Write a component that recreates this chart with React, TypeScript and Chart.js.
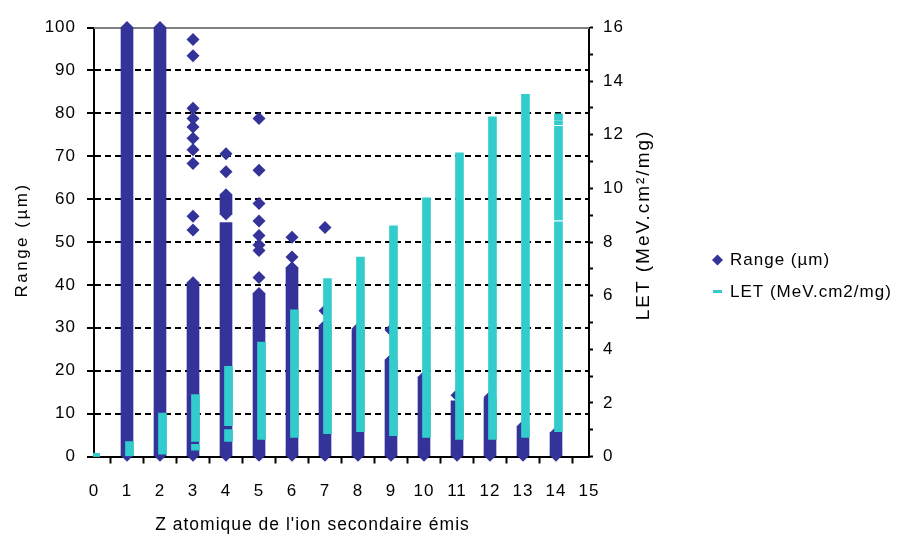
import React, { useEffect, useRef } from 'react';
import { Chart, registerables } from 'chart.js';

Chart.register(...registerables);

// ---------- data ----------
const xTickValues = [0, 1, 2, 3, 4, 5, 6, 7, 8, 9, 10, 11, 12, 13, 14, 15];
const xTickLabels = ['0', '1', '2', '3', '4', '5', '6', '7', '8', '9', '10', '11', '12', '13', '14', '15'];
const yTickValues = [0, 10, 20, 30, 40, 50, 60, 70, 80, 90, 100];
const y2TickValues = [0, 1, 2, 3, 4, 5, 6, 7, 8, 9, 10, 11, 12, 13, 14, 15, 16];

// Range (µm): dense runs of markers, per Z
const rangeSegZ = [1, 2, 3, 4, 4, 5, 6, 7, 8, 9, 10, 11, 12, 13, 14];
const rangeSegLow = [0, 0, 0, 0, 56.5, 0, 0, 0, 0, 0, 0, 0, 0, 0, 0];
const rangeSegHigh = [100, 100, 40.5, 54.5, 61, 38, 44, 30.5, 29.5, 22.5, 18.5, 13, 13.5, 7, 5.5];

// Range (µm): individual markers
const rangePtZ = [
  1, 1,
  2, 2,
  3, 3, 3, 3, 3, 3, 3, 3, 3, 3, 3, 3,
  4, 4, 4, 4, 4,
  5, 5, 5, 5, 5, 5, 5, 5, 5, 5,
  6, 6, 6, 6,
  7, 7, 7, 7,
  8, 8,
  9, 9, 9,
  10, 10,
  11, 11,
  12, 12,
  13, 13,
  14, 14,
];
const rangePtVal = [
  0.3, 100,
  0.3, 100,
  0.3, 40.5, 52.8, 56, 68.3, 71.5, 74.2, 76.8, 78.8, 81.2, 93.4, 97.2,
  0.3, 56.5, 61, 66.4, 70.6,
  0.3, 38, 41.7, 48, 49.3, 51.5, 54.9, 59, 66.7, 78.8,
  0.3, 44, 46.5, 51.1,
  0.3, 30.5, 34, 53.4,
  0.3, 29.8,
  0.3, 22.5, 29.5,
  0.3, 18.5,
  0.3, 14.3,
  0.3, 13.8,
  0.3, 7,
  0.3, 5.5,
];

// LET (MeV.cm2/mg): dense runs of markers, per Z
const letSegZ = [1, 2, 3, 3, 4, 4, 5, 6, 7, 8, 9, 10, 11, 12, 13, 14, 14, 14, 14];
const letSegLow = [0, 0.09, 0.56, 0.24, 1.15, 0.56, 0.64, 0.71, 0.85, 0.93, 0.78, 0.71, 0.64, 0.64, 0.71, 0.93, 8.82, 12.38, 12.56];
const letSegHigh = [0.56, 1.62, 2.31, 0.45, 3.36, 1.0, 4.27, 5.47, 6.64, 7.44, 8.6, 9.65, 11.33, 12.67, 13.51, 8.75, 12.31, 12.53, 12.78];

// LET (MeV.cm2/mg): individual markers
const letPtZ = [0];
const letPtVal = [0.06];

// ---------- styles ----------
const FAMILY = '"Liberation Sans", Arial, sans-serif';
const RANGE_COLOR = '#333399';
const LET_COLOR = '#33CCCC';
const LET_X_SHIFT = 0.075;

function drawText(
  ctx: CanvasRenderingContext2D,
  text: string,
  x: number,
  y: number,
  angle: number,
  size: number,
  spacing: number,
  align: CanvasTextAlign = 'center'
) {
  ctx.save();
  ctx.translate(x, y);
  ctx.rotate(angle);
  ctx.font = `${size}px ${FAMILY}`;
  (ctx as any).letterSpacing = `${spacing}px`;
  ctx.fillStyle = '#000';
  ctx.textAlign = align;
  ctx.textBaseline = 'middle';
  ctx.fillText(text, 0, 0);
  ctx.restore();
}

const decor = {
  id: 'decor',
  beforeUpdate(chart: any) {
    (chart.ctx as any).letterSpacing = '1px';
  },
  beforeDraw(chart: any) {
    (chart.ctx as any).letterSpacing = '1px';
  },
  beforeDatasetsDraw(chart: any) {
    const { ctx, chartArea: a } = chart;
    ctx.save();
    ctx.strokeStyle = '#808080';
    ctx.lineWidth = 2;
    ctx.beginPath();
    ctx.moveTo(a.left, Math.round(a.top));
    ctx.lineTo(a.right, Math.round(a.top));
    ctx.stroke();
    ctx.restore();
  },
  afterDraw(chart: any) {
    const ctx: CanvasRenderingContext2D = chart.ctx;
    // axis titles
    drawText(ctx, 'Range (µm)', 14.5, 232, -Math.PI / 2, 17, 2.5);
    drawText(ctx, 'LET (MeV.cm²/mg)', 636, 217, -Math.PI / 2, 19, 2);
    drawText(ctx, "Z atomique de l'ion secondaire émis", 304.5, 517, 0, 17.5, 1);

    // legend
    ctx.save();
    const cx = 709.5;
    const cy = 252;
    ctx.fillStyle = RANGE_COLOR;
    ctx.beginPath();
    ctx.moveTo(cx, cy - 5.5);
    ctx.lineTo(cx + 5.5, cy);
    ctx.lineTo(cx, cy + 5.5);
    ctx.lineTo(cx - 5.5, cy);
    ctx.closePath();
    ctx.fill();
    ctx.fillStyle = LET_COLOR;
    ctx.fillRect(705, 282, 9, 3);
    ctx.restore();
    drawText(ctx, 'Range (µm)', 722, 252, 0, 17, 1, 'left');
    drawText(ctx, 'LET (MeV.cm2/mg)', 722, 284, 0, 17, 1, 'left');
  },
};

export default function App() {
  const ref = useRef<HTMLCanvasElement>(null);

  useEffect(() => {
    const canvas = ref.current;
    if (!canvas) return;

    const rangeBarData = rangeSegZ.map((z, i) => ({ x: z, y: [rangeSegLow[i], rangeSegHigh[i]] }));
    const rangePts = rangePtZ.map((z, i) => ({ x: z, y: rangePtVal[i] }));
    const letBarData = letSegZ.map((z, i) => ({ x: z + LET_X_SHIFT, y: [letSegLow[i], letSegHigh[i]] }));
    const letPts = letPtZ.map((z, i) => ({ x: z + LET_X_SHIFT, y: letPtVal[i] }));

    const tickFont = { family: FAMILY, size: 17, lineHeight: 1 };

    const chart = new Chart(canvas, {
      type: 'scatter',
      data: {
        datasets: [
          {
            type: 'bar',
            label: 'LET runs',
            data: letBarData as any,
            yAxisID: 'y2',
            backgroundColor: LET_COLOR,
            borderWidth: 0,
            barThickness: 8,
            grouped: false,
            order: 0,
          } as any,
          {
            type: 'scatter',
            label: 'LET (MeV.cm2/mg)',
            data: letPts,
            yAxisID: 'y2',
            pointStyle: 'line',
            pointRadius: 3.5,
            pointBorderWidth: 4,
            pointBorderColor: LET_COLOR,
            borderColor: LET_COLOR,
            backgroundColor: LET_COLOR,
            clip: false,
            order: 1,
          } as any,
          {
            type: 'scatter',
            label: 'Range (µm)',
            data: rangePts,
            yAxisID: 'y',
            pointStyle: 'rectRot',
            pointRadius: 6.5,
            pointBorderWidth: 0,
            backgroundColor: RANGE_COLOR,
            borderColor: RANGE_COLOR,
            clip: false,
            order: 2,
          } as any,
          {
            type: 'bar',
            label: 'Range runs',
            data: rangeBarData as any,
            yAxisID: 'y',
            backgroundColor: RANGE_COLOR,
            borderWidth: 0,
            barThickness: 12,
            grouped: false,
            order: 3,
          } as any,
        ],
      },
      options: {
        responsive: false,
        animation: false,
        devicePixelRatio: 1,
        events: [],
        layout: { padding: { top: 8.5, right: 258, left: 0, bottom: 0 } },
        plugins: {
          legend: { display: false },
          tooltip: { enabled: false },
          title: { display: false },
        },
        scales: {
          x: {
            type: 'linear',
            min: 0,
            max: 15,
            offset: false,
            afterBuildTicks: (s: any) => {
              s.ticks = xTickValues.map((v) => ({ value: v }));
            },
            ticks: {
              autoSkip: false,
              maxRotation: 0,
              minRotation: 0,
              font: tickFont,
              color: '#000',
              padding: 19,
              callback: (_v: any, i: number) => xTickLabels[i],
            },
            grid: { drawOnChartArea: false, drawTicks: true, tickLength: 7, tickColor: '#000', tickWidth: 2 },
            border: { display: true, color: '#000', width: 2 },
            afterFit: (s: any) => {
              s.height = 78.5;
            },
          } as any,
          y: {
            type: 'linear',
            position: 'left',
            min: 0,
            max: 100,
            afterBuildTicks: (s: any) => {
              s.ticks = yTickValues.map((v) => ({ value: v }));
            },
            ticks: { font: tickFont, color: '#000', padding: 11 },
            grid: {
              color: (c: any) =>
                c.tick && (c.tick.value === 0 || c.tick.value === 100) ? 'rgba(0,0,0,0)' : '#000',
              lineWidth: 2,
              tickLength: 7,
              tickColor: '#000',
              tickWidth: 2,
            },
            border: { display: true, color: '#000', width: 2, dash: [6, 4] },
            afterFit: (s: any) => {
              s.width = 86;
            },
          } as any,
          y2: {
            type: 'linear',
            position: 'right',
            min: 0,
            max: 16,
            afterBuildTicks: (s: any) => {
              s.ticks = y2TickValues.map((v) => ({ value: v }));
            },
            ticks: {
              font: tickFont,
              color: '#000',
              padding: 10,
              callback: (v: any) => (Number(v) % 2 === 0 ? String(v) : ''),
            },
            grid: { drawOnChartArea: false, tickLength: 4, tickColor: '#000', tickWidth: 2 },
            border: { display: true, color: '#000', width: 2 },
            afterFit: (s: any) => {
              s.width = 60;
            },
          } as any,
        },
      },
      plugins: [decor as any],
    });

    return () => chart.destroy();
  }, []);

  return (
    <canvas
      ref={ref}
      width={899}
      height={527}
      style={{ display: 'block', width: '899px', height: '527px' }}
    />
  );
}
